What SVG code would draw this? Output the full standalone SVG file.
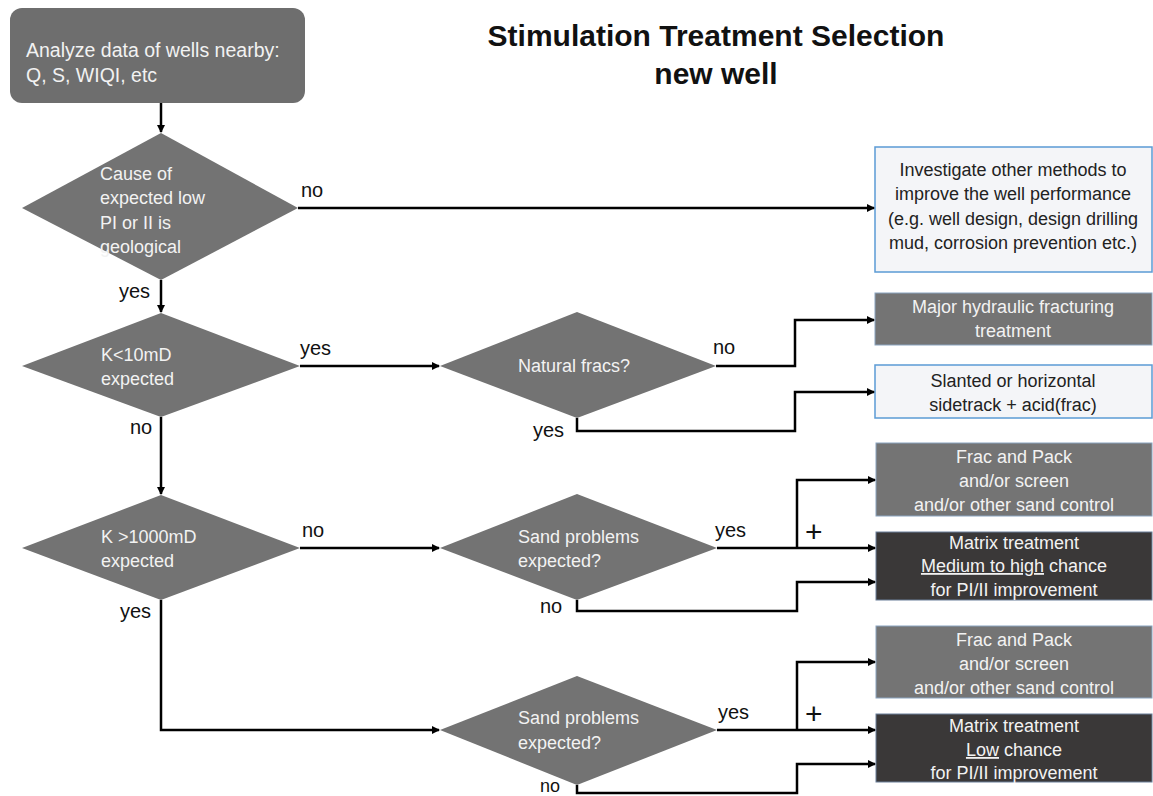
<svg xmlns="http://www.w3.org/2000/svg" width="1153" height="796" viewBox="0 0 1153 796">
<style>
.t{font-family:"Liberation Sans",Arial,sans-serif;}
.w{fill:#f2f2f2;font-size:18px;}
.d{fill:#222;font-size:18px;}
.lab{fill:#111;font-size:20px;font-family:"Liberation Sans",Arial,sans-serif;}
.plus{fill:#111;font-size:30px;font-family:"Liberation Sans",Arial,sans-serif;}
.dia{fill:#737373;}
.gbox{fill:#747474;stroke:#8aa4c0;stroke-width:1;}
.kbox{fill:#3a3838;stroke:#6a7f99;stroke-width:1;}
.lbox{fill:#f4f5f8;stroke:#5b9bd5;stroke-width:1.5;}
.c{fill:none;stroke:#000;stroke-width:2.5;}
.ca{fill:none;stroke:#000;stroke-width:2.5;marker-end:url(#ah);}
</style>
<defs>
<marker id="ah" markerWidth="8" markerHeight="8" refX="7" refY="4" orient="auto" markerUnits="userSpaceOnUse"><path d="M0,0 L8,4 L0,8 z" fill="#000"/></marker>
</defs>
<rect width="1153" height="796" fill="#fff"/>
<g id="title" class="t" font-weight="bold" font-size="30" fill="#111" text-anchor="middle">
<text x="716" y="46">Stimulation Treatment Selection</text>
<text x="716" y="84">new well</text>
</g>
<g id="start">
<rect x="10" y="8" width="295" height="95" rx="12" fill="#6e6e6e"/>
<text class="t w" x="26" y="57" style="font-size:19.5px">Analyze data of wells nearby:</text>
<text class="t w" x="26" y="82" style="font-size:19.5px">Q, S, WIQI, etc</text>
</g>
<g id="d1">
<polygon class="dia" points="161,133 298,208 161,280 22,208"/>
<text class="t w" x="100" y="180">Cause of</text>
<text class="t w" x="100" y="204">expected low</text>
<text class="t w" x="100" y="229">PI or II is</text>
<text class="t w" x="100" y="253">geological</text>
</g>
<g id="d2">
<polygon class="dia" points="161,313 300,366 161,417 22,366"/>
<text class="t w" x="101" y="361">K&lt;10mD</text>
<text class="t w" x="101" y="385">expected</text>
</g>
<g id="d3">
<polygon class="dia" points="577,312 716,366 577,418 440,366"/>
<text class="t w" x="574" y="372" text-anchor="middle">Natural fracs?</text>
</g>
<g id="d4">
<polygon class="dia" points="161,495 300,548 161,600 22,548"/>
<text class="t w" x="101" y="543">K &gt;1000mD</text>
<text class="t w" x="101" y="567">expected</text>
</g>
<g id="d5">
<polygon class="dia" points="577,494 717,548 577,600 440,548"/>
<text class="t w" x="518" y="543">Sand problems</text>
<text class="t w" x="518" y="567">expected?</text>
</g>
<g id="d6">
<polygon class="dia" points="577,676 717,730 577,785 440,730"/>
<text class="t w" x="518" y="724">Sand problems</text>
<text class="t w" x="518" y="749">expected?</text>
</g>
<g id="b1">
<rect class="lbox" x="875" y="147" width="277" height="125"/>
<g class="t d" text-anchor="middle">
<text x="1013" y="176">Investigate other methods to</text>
<text x="1013" y="200">improve the well performance</text>
<text x="1013" y="225">(e.g. well design, design drilling</text>
<text x="1013" y="249">mud, corrosion prevention etc.)</text>
</g>
</g>
<g id="b2">
<rect class="gbox" x="875" y="293" width="277" height="52"/>
<g class="t w" text-anchor="middle">
<text x="1013" y="313">Major hydraulic fracturing</text>
<text x="1013" y="337">treatment</text>
</g>
</g>
<g id="b3">
<rect class="lbox" x="875" y="365" width="277" height="53"/>
<g class="t d" text-anchor="middle">
<text x="1013" y="387">Slanted or horizontal</text>
<text x="1013" y="411">sidetrack + acid(frac)</text>
</g>
</g>
<g id="b4">
<rect class="gbox" x="876" y="443" width="276" height="73"/>
<g class="t w" text-anchor="middle">
<text x="1014" y="463">Frac and Pack</text>
<text x="1014" y="487">and/or screen</text>
<text x="1014" y="511">and/or other sand control</text>
</g>
</g>
<g id="b5">
<rect class="kbox" x="876" y="532" width="276" height="68"/>
<g class="t w" text-anchor="middle">
<text x="1014" y="549">Matrix treatment</text>
<text x="1014" y="572"><tspan text-decoration="underline">Medium to high</tspan> chance</text>
<text x="1014" y="596">for PI/II improvement</text>
</g>
</g>
<g id="b6">
<rect class="gbox" x="876" y="626" width="276" height="72"/>
<g class="t w" text-anchor="middle">
<text x="1014" y="646">Frac and Pack</text>
<text x="1014" y="670">and/or screen</text>
<text x="1014" y="694">and/or other sand control</text>
</g>
</g>
<g id="b7">
<rect class="kbox" x="876" y="714" width="276" height="68"/>
<g class="t w" text-anchor="middle">
<text x="1014" y="732">Matrix treatment</text>
<text x="1014" y="756"><tspan text-decoration="underline">Low</tspan> chance</text>
<text x="1014" y="779">for PI/II improvement</text>
</g>
</g>
<g id="connectors">
<path class="ca" d="M161,103 V132"/>
<path class="ca" d="M298,208 H874"/>
<path class="ca" d="M161,280 V312"/>
<path class="ca" d="M300,366 H439"/>
<path class="ca" d="M716,366 H795 V320 H874"/>
<path class="ca" d="M577,418 V431 H795 V392 H874"/>
<path class="ca" d="M161,417 V494"/>
<path class="ca" d="M300,548 H439"/>
<path class="ca" d="M717,548 H875"/>
<path class="ca" d="M797,548 V480 H875"/>
<path class="ca" d="M577,600 V611 H797 V582 H875"/>
<path class="ca" d="M161,600 V730 H439"/>
<path class="ca" d="M717,730 H875"/>
<path class="ca" d="M797,730 V662 H875"/>
<path class="ca" d="M577,785 V793 H797 V764 H875"/>
</g>
<g id="labels">
<text class="lab" x="301" y="197">no</text>
<text class="lab" x="119" y="298">yes</text>
<text class="lab" x="300" y="355">yes</text>
<text class="lab" x="713" y="354">no</text>
<text class="lab" x="533" y="437">yes</text>
<text class="lab" x="130" y="434">no</text>
<text class="lab" x="302" y="537">no</text>
<text class="lab" x="715" y="537">yes</text>
<text class="lab" x="540" y="613">no</text>
<text class="lab" x="120" y="618">yes</text>
<text class="lab" x="718" y="719">yes</text>
<text class="lab" x="540" y="792" style="font-size:18px">no</text>
<text class="plus" x="805" y="542">+</text>
<text class="plus" x="805" y="724">+</text>
</g>
</svg>
